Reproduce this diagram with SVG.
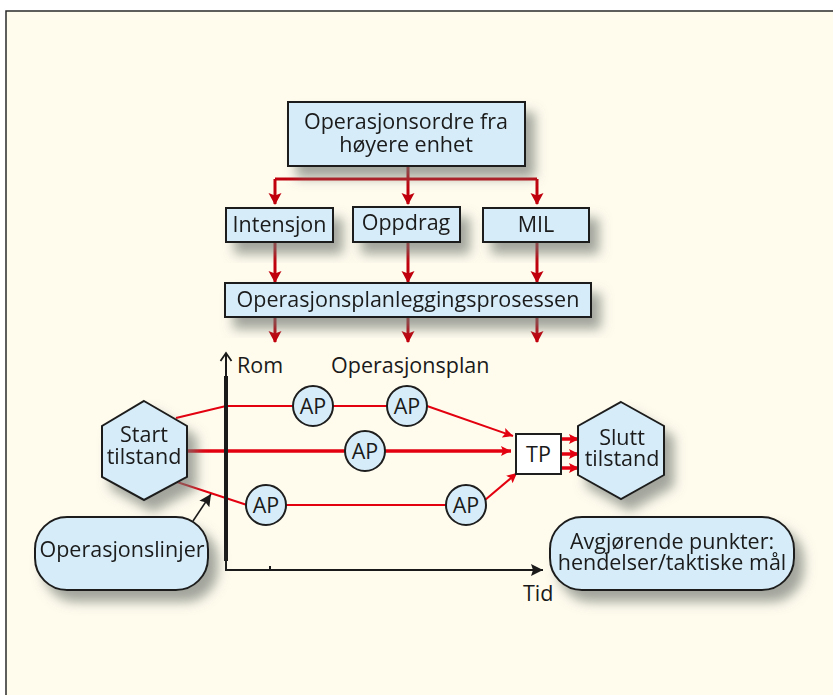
<svg xmlns="http://www.w3.org/2000/svg" width="833" height="695" viewBox="0 0 833 695">
<defs>
<style>
.box{fill:#d6edf9;stroke:#1e1e1e;stroke-width:2}
.t{font-family:"Open Sans","Liberation Sans",sans-serif;font-size:21.5px;fill:#1a1a1a;text-anchor:middle}
.tl{font-family:"Open Sans","Liberation Sans",sans-serif;font-size:21.5px;fill:#1a1a1a}
.rd{fill:none;stroke:#c0000c;stroke-width:3}
.rl{fill:none;stroke:#e3000f;stroke-width:2}
.rm{fill:none;stroke:#e3000f;stroke-width:3.5}
.ax{fill:none;stroke:#1a1a1a;stroke-width:2}
</style>
<filter id="sh" x="-40%" y="-40%" width="190%" height="200%">
<feDropShadow dx="9" dy="11" stdDeviation="6" flood-color="#6f766f" flood-opacity="0.65"/>
</filter>
<marker id="ad" markerUnits="userSpaceOnUse" markerWidth="14" markerHeight="14" refX="11" refY="6.5" orient="auto">
<path d="M0,0 L12,6.5 L0,13 L2.5,6.5 z" fill="#c0000c"/>
</marker>
<marker id="ar" markerUnits="userSpaceOnUse" markerWidth="12" markerHeight="12" refX="10" refY="5" orient="auto">
<path d="M0,0 L10,5 L0,10 L2,5 z" fill="#e3000f"/>
</marker>
<marker id="ab" markerUnits="userSpaceOnUse" markerWidth="14" markerHeight="14" refX="12" refY="6" orient="auto">
<path d="M0,0 L12,6 L0,12 L2,6 z" fill="#1a1a1a"/>
</marker>
</defs>
<rect x="0" y="0" width="833" height="695" fill="#ffffff"/>
<rect x="6" y="11" width="840" height="700" fill="#fffcee" stroke="#2a2a2a" stroke-width="1.5"/>

<g id="connectors">
<path class="rd" d="M408,166 V179 M275,179 H537"/>
<path class="rd" d="M275,179 V204" marker-end="url(#ad)"/>
<path class="rd" d="M408,179 V204" marker-end="url(#ad)"/>
<path class="rd" d="M537,179 V204" marker-end="url(#ad)"/>
<path class="rd" d="M275,242 V282" marker-end="url(#ad)"/>
<path class="rd" d="M408,242 V282" marker-end="url(#ad)"/>
<path class="rd" d="M537,242 V282" marker-end="url(#ad)"/>
<path class="rd" d="M275,317 V342" marker-end="url(#ad)"/>
<path class="rd" d="M408,317 V342" marker-end="url(#ad)"/>
<path class="rd" d="M537,317 V342" marker-end="url(#ad)"/>

<path class="rl" d="M176,418 L226,406 H293"/>
<path class="rl" d="M333,406 H387"/>
<path class="rl" d="M427,406 L513,436" marker-end="url(#ar)"/>
<path class="rm" d="M187,451 H345"/>
<path class="rm" d="M385,451 H511" marker-end="url(#ar)"/>
<path class="rl" d="M177,482 L247,505"/>
<path class="rl" d="M286,505 H446"/>
<path class="rl" d="M485,500 L517,473" marker-end="url(#ar)"/>
<path class="rm" d="M561,439 H579" marker-end="url(#ar)"/>
<path class="rm" d="M561,454 H579" marker-end="url(#ar)"/>
<path class="rm" d="M561,468 H579" marker-end="url(#ar)"/>

<path d="M193,521 L211,494" fill="none" stroke="#1a1a1a" stroke-width="1.6" marker-end="url(#ab)"/>

<path class="ax" d="M226,570 V354"/>
<path d="M220.5,361 L226,353 L231.5,361" fill="none" stroke="#1a1a1a" stroke-width="1.8"/>
<path d="M226,376 V561" stroke="#1a1a1a" stroke-width="4"/>
<path class="ax" d="M225,570 H543" marker-end="url(#ab)"/>
<path d="M270,566 V571" stroke="#1a1a1a" stroke-width="2"/>
</g>

<g id="n-ordre" filter="url(#sh)">
<rect class="box" x="288" y="102" width="237" height="64"/>
<text class="t" x="406" y="129">Operasjonsordre fra</text>
<text class="t" x="406" y="152">høyere enhet</text>
</g>
<g id="n-intensjon" filter="url(#sh)">
<rect class="box" x="226" y="208" width="107" height="34"/>
<text class="t" x="279.5" y="232">Intensjon</text>
</g>
<g id="n-oppdrag" filter="url(#sh)">
<rect class="box" x="353" y="207" width="107" height="35"/>
<text class="t" x="406" y="230">Oppdrag</text>
</g>
<g id="n-mil" filter="url(#sh)">
<rect class="box" x="483" y="208" width="106" height="34"/>
<text class="t" x="536" y="232">MIL</text>
</g>
<g id="n-prosess" filter="url(#sh)">
<rect class="box" x="225" y="283" width="366" height="34"/>
<text class="t" x="408" y="307">Operasjonsplanleggingsprosessen</text>
</g>

<g id="l-rom"><text class="tl" x="237" y="373">Rom</text></g>
<g id="l-plan"><text class="tl" x="331" y="373">Operasjonsplan</text></g>
<g id="l-tid"><text class="tl" x="523" y="601">Tid</text></g>

<g id="n-start" filter="url(#sh)">
<polygon class="box" points="144,401 187,426 187,477 144,500 102,477 102,426"/>
<text class="t" x="144" y="442">Start</text>
<text class="t" x="144" y="464">tilstand</text>
</g>

<g id="n-ap1"><circle class="box" cx="313" cy="406" r="20" stroke-width="1.5"/><text class="t" x="313" y="413.5">AP</text></g>
<g id="n-ap2"><circle class="box" cx="407" cy="406" r="20" stroke-width="1.5"/><text class="t" x="407" y="413.5">AP</text></g>
<g id="n-ap3"><circle class="box" cx="365" cy="451" r="20" stroke-width="1.5"/><text class="t" x="365" y="458.5">AP</text></g>
<g id="n-ap4"><circle class="box" cx="266" cy="505" r="20" stroke-width="1.5"/><text class="t" x="266" y="512.5">AP</text></g>
<g id="n-ap5"><circle class="box" cx="466" cy="505" r="20" stroke-width="1.5"/><text class="t" x="466" y="512.5">AP</text></g>

<g id="n-tp">
<rect x="516" y="434" width="45" height="40" fill="#ffffff" stroke="#1e1e1e" stroke-width="2"/>
<text class="t" x="538.5" y="462">TP</text>
</g>

<g id="n-slutt" filter="url(#sh)">
<polygon class="box" points="621,402 664,426 664,475 621,499 578,475 578,426"/>
<text class="t" x="622" y="445">Slutt</text>
<text class="t" x="622" y="466">tilstand</text>
</g>

<g id="n-avgj" filter="url(#sh)">
<rect class="box" x="550" y="517" width="244" height="73" rx="32" ry="32"/>
<text class="t" x="672" y="549">Avgjørende punkter:</text>
<text class="t" x="672" y="570">hendelser/taktiske mål</text>
</g>

<g id="n-linjer" filter="url(#sh)">
<rect class="box" x="35" y="517" width="173" height="73" rx="32" ry="32"/>
<text class="t" x="122" y="557">Operasjonslinjer</text>
</g>
</svg>
